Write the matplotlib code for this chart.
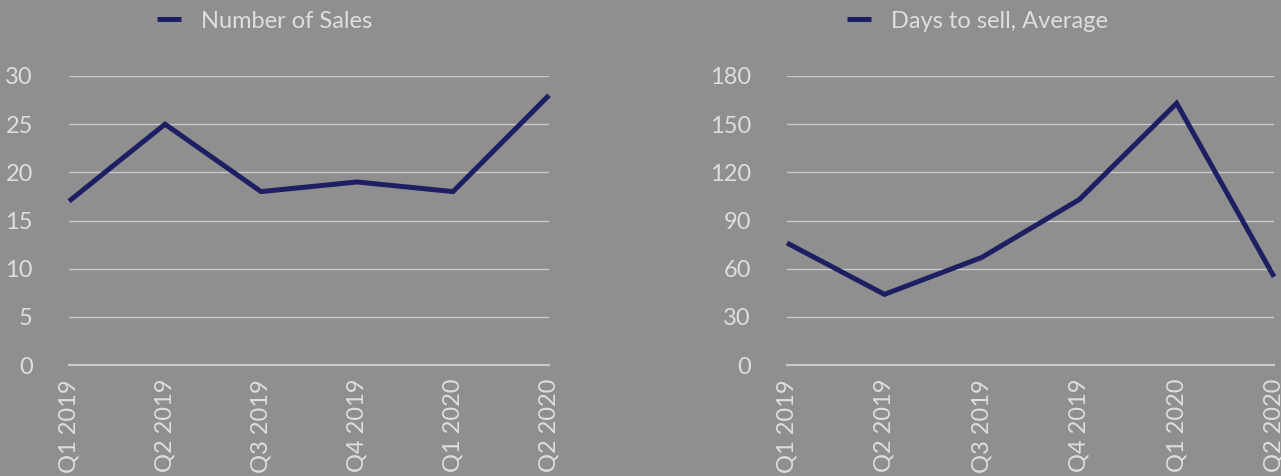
import matplotlib
matplotlib.use('Agg')
import matplotlib.pyplot as plt

# data
quarters = ['Q1 2019', 'Q2 2019', 'Q3 2019', 'Q4 2019', 'Q1 2020', 'Q2 2020']
num_sales = [17, 25, 18, 19, 18, 28]
days_to_sell = [76, 44, 67, 103, 163, 55]

sales_ticks = [0, 5, 10, 15, 20, 25, 30]
days_ticks = [0, 30, 60, 90, 120, 150, 180]

bg = '#8f8f8f'
txt = '#dedede'
grid_c = '#c9c9c9'
line_c = '#1e1f63'

plt.rcParams['font.family'] = ['Lato', 'DejaVu Sans']

fig = plt.figure(figsize=(12.81, 4.76), dpi=100, facecolor=bg)

W, H = 1281, 476


def make_axes(x0, x1, y_top, y_bot):
    return fig.add_axes([x0 / W, 1 - y_bot / H, (x1 - x0) / W, (y_bot - y_top) / H])


panels = [
    (make_axes(69, 549, 76, 365), num_sales, sales_ticks, 'Number of Sales', (157, 21)),
    (make_axes(787, 1274, 76, 365), days_to_sell, days_ticks, 'Days to sell, Average', (847, 21)),
]

for ax, vals, ticks, label, (lx, ly) in panels:
    ax.set_facecolor(bg)
    ax.plot(range(len(quarters)), vals, color=line_c, lw=3.6, label=label,
            solid_joinstyle='miter', solid_capstyle='butt', clip_on=False)
    ax.set_xlim(0, len(quarters) - 1)
    ax.set_ylim(ticks[0], ticks[-1])
    ax.set_yticks(ticks)
    ax.set_xticks(range(len(quarters)))
    ax.set_xticklabels(quarters, rotation=90)
    ax.tick_params(axis='both', length=0, colors=txt, labelsize=17)
    ax.tick_params(axis='y', pad=26)
    ax.tick_params(axis='x', pad=10)
    ax.grid(axis='y', color=grid_c, lw=1.0)
    ax.set_axisbelow(True)
    for s in ['top', 'right', 'left']:
        ax.spines[s].set_visible(False)
    ax.spines['bottom'].set_color(grid_c)
    ax.spines['bottom'].set_linewidth(1.6)
    leg = ax.legend(loc='center left', bbox_to_anchor=(lx / W, 1 - ly / H),
                    bbox_transform=fig.transFigure, frameon=False, fontsize=17,
                    handlelength=1.0, handletextpad=0.85, borderpad=0, borderaxespad=0)
    for t in leg.get_texts():
        t.set_color(txt)

fig.savefig('out.png', dpi=100, facecolor=bg)
